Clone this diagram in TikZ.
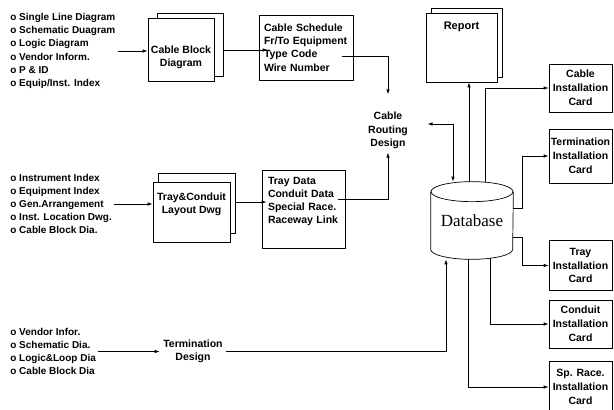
\documentclass[tikz,border=0pt]{standalone}
\usepackage{fontspec}
\setmainfont{Liberation Sans}
\newfontfamily\dbfont{Liberation Serif}
\usetikzlibrary{arrows.meta,shadows}

\begin{document}
\begin{tikzpicture}[x=1pt,y=-1pt,line width=.7pt,
  src/.style={align=left,inner sep=2pt,font=\bfseries\fontsize{10}{13.2}\selectfont},
  box/.style={draw,fill=white,inner sep=2pt,font=\bfseries\fontsize{10.5}{13.3}\selectfont},
  card/.style={draw,align=center,minimum width=63pt,inner sep=1pt,font=\bfseries\fontsize{10.5}{13.8}\selectfont},
  plain/.style={align=center,font=\bfseries\fontsize{10.5}{13.5}\selectfont},
  tip/.tip={Latex[length=5pt,width=3.5pt]},
  arr/.style={-tip}]
  \useasboundingbox (0,0) rectangle (614,410);

  \node[src,anchor=west] (srca) at (8,51) {o Single Line Diagram\\o Schematic Duagram\\o Logic Diagram\\o Vendor Inform.\\o P \& ID\\o Equip/Inst. Index};
  \node[src,anchor=west] (srcb) at (8,204) {o Instrument Index\\o Equipment Index\\o Gen.Arrangement\\o Inst. Location Dwg.\\o Cable Block Dia.};
  \node[src,anchor=west] (srcc) at (8,351.5) {o Vendor Infor.\\o Schematic Dia.\\o Logic\&Loop Dia\\o Cable Block Dia};

  \node[box,copy shadow={shadow xshift=9pt,shadow yshift=5pt},align=center,minimum width=66pt,minimum height=63pt] (blk) at (181,50) {\strut\\Cable Block\\Diagram};
  \node[box,align=left,text width=84pt,inner xsep=5pt,minimum height=65pt] (sched) at (306,47.5) {Cable Schedule\\Fr/To Equipment\\Type Code\\Wire Number};
  \node[box,copy shadow={shadow xshift=5pt,shadow yshift=9pt},align=center,minimum width=77pt,minimum height=60pt] (lay) at (191.5,212) {Tray\&Conduit\\Layout Dwg\\\strut};
  \node[box,align=left,text width=71pt,inner xsep=6pt,minimum height=78pt] (race) at (303.5,209) {Tray Data\\Conduit Data\\Special Race.\\Raceway Link\\\strut};
  \node[plain] (route) at (388,130.5) {Cable\\Routing\\Design};
  \node[plain] (termd) at (193,351.5) {Termination\\Design};
  \node[box,copy shadow={shadow xshift=5pt,shadow yshift=5pt},align=center,minimum width=71pt,minimum height=69pt,font=\bfseries\fontsize{11}{13.3}\selectfont] (rep) at (461.5,47.5) {Report\\\strut\\\strut\\\strut};

  \node[minimum width=82pt,minimum height=77pt,inner sep=0pt,font=\dbfont\fontsize{17}{20}\selectfont] (db) at (472,220.5) {Database};
  \draw ([yshift=-10pt]db.north) ellipse [x radius=41,y radius=10];
  \draw ([yshift=-10pt]db.north west) -- ([yshift=10pt]db.south west) arc[start angle=180,end angle=0,x radius=41,y radius=10] -- ([yshift=-10pt]db.north east);

  \node[card,minimum height=48pt] (ccard) at (580.5,88) {Cable\\Installation\\Card};
  \node[card,minimum height=54pt] (tcard) at (580.5,156) {Termination\\Installation\\Card};
  \node[card,minimum height=50pt] (trcard) at (580.5,265.5) {Tray\\Installation\\Card};
  \node[card,minimum height=48pt] (cdcard) at (580.5,324) {Conduit\\Installation\\Card};
  \node[card,minimum height=52pt] (spcard) at (580.5,387) {Sp. Race.\\Installation\\Card};

  \draw[arr] (srca.east) -- (srca.east -| blk.west);
  \draw[arr] ([xshift=9pt]blk.east) -- ([xshift=9pt]blk.east -| sched.west);
  \draw[arr] ([xshift=-11pt,yshift=-8.5pt]sched.east) -| ([yshift=14pt]route.north);
  \draw[arr] (srcb.east) -- (srcb.east -| lay.west);
  \draw[arr] ([xshift=5pt,yshift=10pt]lay.east) -- ([xshift=5pt,yshift=10pt]lay.east -| race.west);
  \draw[arr] ([xshift=-7pt,yshift=10pt]race.east) -| (route.south);
  \draw[tip-tip] ([xshift=16pt,yshift=6.5pt]route.east) -| ([xshift=-19pt]db.north);
  \draw[arr] ([xshift=-3pt]db.north) -- ([xshift=-3pt]db.north |- rep.south);
  \draw[arr] ([xshift=13pt]db.north) |- (ccard.west);
  \draw[arr] ([yshift=12pt]db.east) -- ++(9,0) |- (tcard.west);
  \draw[arr] ([yshift=-17pt]db.east) -- ++(9,0) |- (trcard.west);
  \draw[arr] ([xshift=18pt,yshift=1.5pt]db.south) |- (cdcard.west);
  \draw[arr] ([xshift=-4pt]db.south) |- (spcard.west);
  \draw[arr] (srcc.east) -- (srcc.east -| termd.west);
  \draw[arr] (termd.east) -| ([xshift=-26pt]db.south);
\end{tikzpicture}
\end{document}
